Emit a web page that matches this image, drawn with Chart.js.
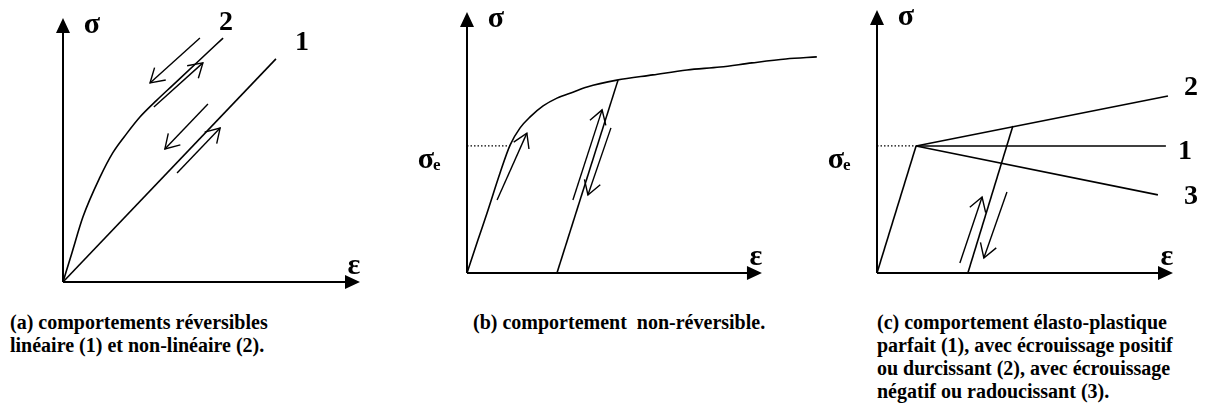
<!DOCTYPE html>
<html lang="fr">
  <head>
    <meta charset="UTF-8" />
    <title>Comportements contrainte-déformation</title>
    <script src="https://cdn.jsdelivr.net/npm/chart.js"></script>
    <style>
      body {
        margin: 0;
        background: #fff;
        width: 1228px;
        height: 416px;
        position: relative;
        overflow: hidden;
      }
      canvas {
        position: absolute;
        top: 0;
      }
      .cap {
        position: absolute;
        font: bold 20px "Liberation Serif", "Times New Roman", serif;
        line-height: 23px;
        white-space: nowrap;
        color: #000;
      }
    </style>
  </head>
  <body>
    <canvas id="chart-a" width="409" height="300" style="left: 0"></canvas>
    <canvas id="chart-b" width="410" height="300" style="left: 409px"></canvas>
    <canvas id="chart-c" width="409" height="300" style="left: 819px"></canvas>

    <div class="cap" style="left: 10px; top: 311px">
      (a) comportements réversibles<br />linéaire (1) et non-linéaire (2).
    </div>
    <div class="cap" style="left: 473px; top: 311px">
      (b) comportement&nbsp; non-réversible.
    </div>
    <div class="cap" style="left: 877px; top: 311px">
      (c) comportement élasto-plastique<br />parfait (1), avec écrouissage
      positif<br />ou durcissant (2), avec écrouissage<br />négatif ou
      radoucissant (3).
    </div>

    <script>
      //strain / stress in relative units, the drawn axes run from 0 to 1
      //(a) reversible behaviour
      const linearA = [[0, 0], [0.717, 0.845]];
      const nonLinearA = [
        [0, 0], [0.03, 0.11], [0.067, 0.246], [0.125, 0.398], [0.168, 0.49],
        [0.215, 0.563], [0.259, 0.625], [0.316, 0.689], [0.37, 0.746],
        [0.461, 0.842], [0.539, 0.924],
      ];
      const arrowsA = [
        [[0.461, 0.924], [0.293, 0.754]],
        [[0.306, 0.663], [0.471, 0.83]],
        [[0.488, 0.674], [0.343, 0.504]],
        [[0.384, 0.413], [0.529, 0.583]],
      ];

      //(b) non reversible behaviour
      const loadingB = [
        [0, 0], [0.037, 0.126], [0.068, 0.23], [0.112, 0.383], [0.146, 0.49],
        [0.18, 0.556], [0.214, 0.598], [0.258, 0.64], [0.305, 0.67],
        [0.359, 0.693], [0.407, 0.713], [0.508, 0.739], [0.63, 0.759],
        [0.746, 0.778], [0.858, 0.789], [0.966, 0.805], [1.081, 0.82],
        [1.186, 0.828],
      ];
      const unloadingB = [[0.512, 0.739], [0.305, 0]];
      const yieldB = [0.146, 0.487]; //[strain, sigma_e]
      const arrowsB = [
        [[0.102, 0.28], [0.203, 0.536]],
        [[0.359, 0.28], [0.458, 0.625]],
        [[0.488, 0.556], [0.41, 0.299]],
      ];

      //(c) elasto-plastic behaviour
      const yieldC = [0.132, 0.483];
      const perfectC = [yieldC, [0.976, 0.483]]; //1
      const hardeningC = [yieldC, [0.983, 0.673]]; //2
      const softeningC = [yieldC, [0.949, 0.297]]; //3
      const unloadingC = [[0.459, 0.559], [0.307, 0]];
      const arrowsC = [
        [[0.28, 0.038], [0.355, 0.289]],
        [[0.439, 0.308], [0.361, 0.057]],
      ];

      const SERIF = '"Liberation Serif", "Times New Roman", serif';
      const toXY = (pts) => pts.map(([x, y]) => ({ x, y }));

      function line(pts, extra) {
        return Object.assign(
          {
            data: toXY(pts),
            showLine: true,
            borderColor: "#000",
            borderWidth: 1.6,
            pointRadius: 0,
            clip: false,
          },
          extra
        );
      }
      const curve = (pts) => line(pts, { cubicInterpolationMode: "monotone" });
      const arrow = (pts) => line(pts, { arrow: true, borderWidth: 1.4 });
      const dotted = (y) =>
        line([[0, y[1]], y], { borderWidth: 1.2, borderDash: [1.5, 2] });

      //axes with filled tips, arrow heads, sigma / epsilon and curve numbers
      const schemaPlugin = {
        id: "schema",
        afterDatasetsDraw(chart, args, opts) {
          const { ctx } = chart;
          const sx = chart.scales.x,
            sy = chart.scales.y;
          const x0 = sx.getPixelForValue(0),
            y0 = sy.getPixelForValue(0);
          const x1 = sx.getPixelForValue(1),
            y1 = sy.getPixelForValue(1);
          ctx.save();
          ctx.strokeStyle = "#000";
          ctx.fillStyle = "#000";
          ctx.lineWidth = 2;
          ctx.beginPath();
          ctx.moveTo(x0, y0);
          ctx.lineTo(x1 - 8, y0);
          ctx.moveTo(x0, y0);
          ctx.lineTo(x0, y1 + 8);
          ctx.stroke();
          ctx.beginPath();
          ctx.moveTo(x1, y0);
          ctx.lineTo(x1 - 15, y0 - 7);
          ctx.lineTo(x1 - 15, y0 + 7);
          ctx.closePath();
          ctx.moveTo(x0, y1);
          ctx.lineTo(x0 - 7, y1 + 15);
          ctx.lineTo(x0 + 7, y1 + 15);
          ctx.closePath();
          ctx.fill();

          //open heads on the loading / unloading arrows
          chart.data.datasets.forEach((ds, i) => {
            if (!ds.arrow) return;
            const pts = chart.getDatasetMeta(i).data;
            const a = pts[0],
              b = pts[pts.length - 1];
            const ang = Math.atan2(b.y - a.y, b.x - a.x);
            const len = 16,
              spread = 0.55;
            ctx.lineWidth = ds.borderWidth;
            ctx.beginPath();
            ctx.moveTo(b.x - len * Math.cos(ang - spread), b.y - len * Math.sin(ang - spread));
            ctx.lineTo(b.x, b.y);
            ctx.lineTo(b.x - len * Math.cos(ang + spread), b.y - len * Math.sin(ang + spread));
            ctx.stroke();
          });

          ctx.textAlign = "center";
          ctx.textBaseline = "middle";
          ctx.font = "bold 30px " + SERIF;
          ctx.fillText("σ", x0 + 29, y1 + 7);
          ctx.fillText("ε", x1 - 6, y0 - 16);

          if (opts.yieldAt != null) {
            const ey = sy.getPixelForValue(opts.yieldAt);
            ctx.textAlign = "right";
            ctx.font = "bold 30px " + SERIF;
            ctx.fillText("σ", x0 - 33, ey + 14);
            ctx.textAlign = "left";
            ctx.font = "bold 17px " + SERIF;
            ctx.fillText("e", x0 - 34, ey + 20);
            ctx.textAlign = "center";
          }

          ctx.font = "bold 28px " + SERIF;
          (opts.tags || []).forEach((t) => {
            const pts = chart.getDatasetMeta(t.ds).data;
            const p = pts[pts.length - 1];
            ctx.fillText(t.text, p.x + t.dx, p.y + t.dy);
          });
          ctx.restore();
        },
      };

      //xMax > 1 leaves room for curves that run past the strain axis tip
      function makeChart(id, datasets, padding, schema, xMax = 1) {
        return new Chart(document.getElementById(id), {
          type: "scatter",
          data: { datasets },
          options: {
            responsive: false,
            animation: false,
            events: [],
            layout: { padding },
            scales: {
              x: { type: "linear", display: false, min: 0, max: xMax },
              y: { type: "linear", display: false, min: 0, max: 1 },
            },
            plugins: {
              legend: { display: false },
              tooltip: { enabled: false },
              schema,
            },
          },
          plugins: [schemaPlugin],
        });
      }

      makeChart(
        "chart-a",
        [line(linearA), curve(nonLinearA), ...arrowsA.map(arrow)],
        { left: 63, right: 49, top: 18, bottom: 18 },
        {
          tags: [
            { ds: 0, text: "1", dx: 26, dy: -16 },
            { ds: 1, text: "2", dx: 3, dy: -15 },
          ],
        }
      );

      makeChart(
        "chart-b",
        [curve(loadingB), line(unloadingB), dotted(yieldB), ...arrowsB.map(arrow)],
        { left: 58, right: 1, top: 12, bottom: 27 },
        { yieldAt: yieldB[1] },
        1.19
      );

      makeChart(
        "chart-c",
        [
          line([[0, 0], yieldC]),
          line(perfectC),
          line(hardeningC),
          line(softeningC),
          line(unloadingC),
          dotted(yieldC),
          ...arrowsC.map(arrow),
        ],
        { left: 58, right: 55, top: 10, bottom: 27 },
        {
          yieldAt: yieldC[1],
          tags: [
            { ds: 1, text: "1", dx: 19, dy: 6 },
            { ds: 2, text: "2", dx: 23, dy: -8 },
            { ds: 3, text: "3", dx: 33, dy: 2 },
          ],
        }
      );
    </script>
  </body>
</html>
